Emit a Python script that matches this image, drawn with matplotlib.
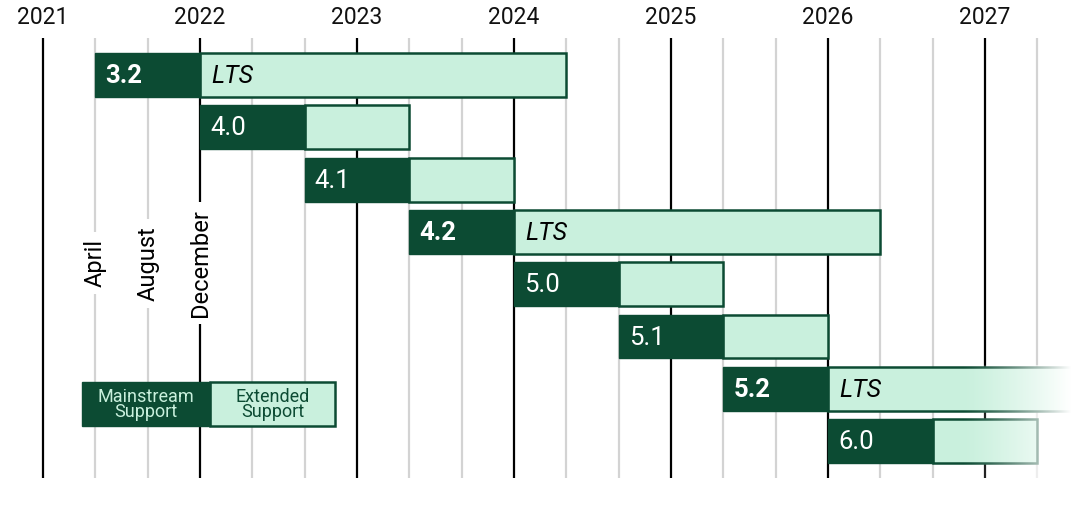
import numpy as np
import matplotlib
matplotlib.use("Agg")
import matplotlib.pyplot as plt
from matplotlib.patches import Rectangle

plt.rcParams['font.family'] = ['Roboto', 'DejaVu Sans']

# release data (fractional years)
versions = ['3.2', '4.0', '4.1', '4.2', '5.0', '5.1', '5.2', '6.0']
is_lts = [True, False, False, True, False, False, True, False]
mainstream_start = [2021 + 4/12, 2022, 2022 + 8/12, 2023 + 4/12, 2024, 2024 + 8/12, 2025 + 4/12, 2026]
mainstream_end = [2022, 2022 + 8/12, 2023 + 4/12, 2024, 2024 + 8/12, 2025 + 4/12, 2026, 2026 + 8/12]
extended_end = [2024 + 4/12, 2023 + 4/12, 2024, 2026 + 4/12, 2025 + 4/12, 2026, 2028 + 4/12, 2027 + 4/12]

years = [2021, 2022, 2023, 2024, 2025, 2026, 2027]
month_labels = ['April', 'August', 'December']
month_label_x = [2021 + 4/12, 2021 + 8/12, 2022]

DARK = '#0c4b33'
LIGHT = '#c9f0dd'
GRAY = '#d3d3d3'

fig = plt.figure(figsize=(10.9, 5.12), dpi=100)
ax = fig.add_axes([0, 0, 1, 1])
ax.axis('off')

line_top, line_bot = -0.71, 7.7
bar_h = 0.84

# grid lines: black at years, gray every 4 months
for i in range(len(years) * 3 - 1):
    x = years[0] + i / 3
    if i % 3 == 0:
        ax.plot([x, x], [line_top, line_bot], color='black', lw=1.6, zorder=1, solid_capstyle='butt')
        ax.text(x, -1.1, str(years[i // 3]), ha='center', va='center', fontsize=16.5, color='#111111')
    else:
        ax.plot([x, x], [line_top, line_bot], color=GRAY, lw=1.6, zorder=1, solid_capstyle='butt')

# month labels
for lab, x in zip(month_labels, month_label_x):
    ax.text(x, 3.6, lab, rotation=90, ha='center', va='center', fontsize=17, color='black',
            bbox=dict(facecolor='white', edgecolor='none', pad=5), zorder=2)

# bars
for i, v in enumerate(versions):
    ax.add_patch(Rectangle((mainstream_end[i], i - bar_h / 2), extended_end[i] - mainstream_end[i], bar_h,
                           facecolor=LIGHT, edgecolor=DARK, lw=1.8, zorder=3))
    ax.add_patch(Rectangle((mainstream_start[i], i - bar_h / 2), mainstream_end[i] - mainstream_start[i], bar_h,
                           facecolor=DARK, edgecolor=DARK, lw=1.0, zorder=4))
    ax.text(mainstream_start[i] + 0.065, i + 0.02, v, ha='left', va='center', fontsize=18.5, color='white',
            fontweight='bold' if is_lts[i] else 'normal', zorder=5)
    if is_lts[i]:
        ax.text(mainstream_end[i] + 0.07, i + 0.02, 'LTS', ha='left', va='center', fontsize=18,
                style='italic', color='black', zorder=5)

# legend
leg_y = 6.29
ax.add_patch(Rectangle((2021.248, leg_y - bar_h / 2), 2022.064 - 2021.248, bar_h,
                       facecolor=DARK, edgecolor=DARK, lw=1.0, zorder=4))
ax.add_patch(Rectangle((2022.064, leg_y - bar_h / 2), 2022.86 - 2022.064, bar_h,
                       facecolor=LIGHT, edgecolor=DARK, lw=1.8, zorder=3))
ax.text((2021.248 + 2022.064) / 2, leg_y + 0.01, 'Mainstream\nSupport', ha='center', va='center',
        fontsize=13, color=LIGHT, linespacing=0.85, zorder=5)
ax.text((2022.064 + 2022.86) / 2, leg_y + 0.01, 'Extended\nSupport', ha='center', va='center',
        fontsize=13, color=DARK, linespacing=0.85, zorder=5)

# fade out on the right side
fade = np.ones((1, 256, 4))
fade[0, :, 3] = np.linspace(0, 1, 256) ** 1.3
ax.imshow(fade, extent=(2026.85, 2027.55, 7.8, 5.55), aspect='auto', zorder=6, interpolation='bilinear')
ax.add_patch(Rectangle((2027.55, 5.55), 0.2, 2.25, facecolor='white', edgecolor='none', zorder=6))
ax.set_xlim(2020.726, 2027.669)
ax.set_ylim((512 - 75) / 52.3, -75 / 52.3)

fig.savefig('out.png', dpi=100)
